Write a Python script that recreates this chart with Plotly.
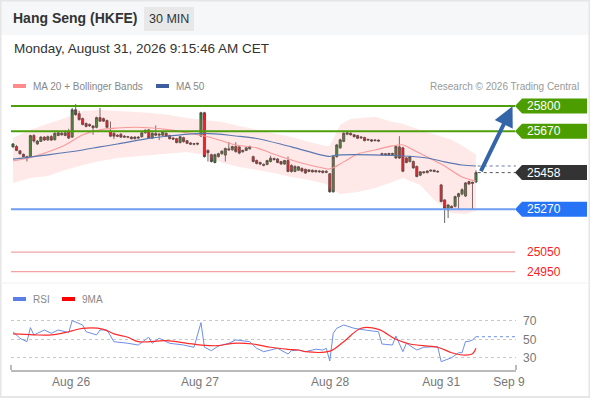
import plotly.graph_objects as go
from plotly.subplots import make_subplots

# 30 min candles, Hang Seng futures (x = bar index)
opens = [25590, 25592, 25570, 25552, 25540, 25540, 25648, 25605, 25618, 25640,
         25625, 25643, 25627, 25648, 25660, 25648, 25668, 25640, 25780, 25760,
         25735, 25710, 25705, 25697, 25690, 25740, 25735, 25725, 25668, 25660,
         25650, 25655, 25645, 25640, 25640, 25632, 25640, 25642, 25662, 25677,
         25635, 25658, 25650, 25650, 25660, 25648, 25635, 25632, 25612, 25637,
         25622, 25610, 25604, 25604, 25646, 25765, 25572, 25550, 25510, 25540,
         25555, 25548, 25580, 25575, 25592, 25590, 25565, 25572, 25580, 25540,
         25520, 25510, 25500, 25500, 25515, 25530, 25528, 25515, 25502, 25520,
         25495, 25464, 25470, 25480, 25475, 25464, 25470, 25462, 25462, 25466,
         25465, 25452, 25360, 25540, 25585, 25618, 25655, 25660, 25652, 25648,
         25636, 25638, 25625, 25626, 25622, 25625, 25556, 25550, 25550, 25556,
         25533, 25590, 25585, 25533, 25515, 25515, 25490, 25445, 25462, 25458,
         25466, 25470, 25464, 25395, 25318, 25267, 25285, 25285, 25335, 25348,
         25338, 25412, 25402, 25410]
highs = [25610, 25600, 25572, 25556, 25545, 25652, 25655, 25625, 25645, 25645,
         25648, 25650, 25665, 25668, 25668, 25675, 25683, 25790, 25810, 25775,
         25740, 25715, 25710, 25702, 25745, 25790, 25740, 25730, 25720, 25665,
         25655, 25660, 25650, 25646, 25645, 25645, 25645, 25666, 25680, 25682,
         25665, 25700, 25660, 25672, 25665, 25652, 25640, 25636, 25646, 25642,
         25626, 25614, 25610, 25612, 25770, 25770, 25578, 25555, 25555, 25560,
         25572, 25586, 25615, 25596, 25614, 25596, 25576, 25590, 25596, 25545,
         25525, 25514, 25505, 25524, 25545, 25535, 25532, 25518, 25524, 25540,
         25500, 25495, 25492, 25484, 25478, 25476, 25474, 25472, 25470, 25470,
         25470, 25456, 25545, 25605, 25632, 25665, 25668, 25664, 25656, 25652,
         25644, 25642, 25632, 25630, 25628, 25628, 25560, 25558, 25560, 25560,
         25598, 25645, 25590, 25538, 25545, 25520, 25494, 25466, 25466, 25470,
         25474, 25474, 25470, 25400, 25322, 25296, 25290, 25340, 25355, 25378,
         25410, 25416, 25412, 25470]
lows = [25585, 25568, 25550, 25535, 25515, 25535, 25612, 25600, 25615, 25620,
        25622, 25620, 25622, 25645, 25648, 25645, 25630, 25636, 25750, 25725,
        25700, 25690, 25692, 25652, 25685, 25718, 25718, 25685, 25640, 25630,
        25640, 25636, 25636, 25634, 25628, 25628, 25630, 25638, 25658, 25630,
        25630, 25645, 25625, 25645, 25640, 25628, 25625, 25608, 25608, 25612,
        25604, 25600, 25598, 25598, 25640, 25535, 25515, 25510, 25505, 25536,
        25550, 25515, 25570, 25570, 25560, 25552, 25560, 25568, 25576, 25510,
        25500, 25496, 25490, 25496, 25510, 25520, 25506, 25498, 25498, 25460,
        25458, 25460, 25466, 25460, 25452, 25460, 25458, 25458, 25456, 25454,
        25455, 25355, 25355, 25535, 25580, 25614, 25650, 25648, 25638, 25630,
        25630, 25618, 25620, 25615, 25618, 25617, 25545, 25545, 25546, 25548,
        25528, 25528, 25460, 25505, 25510, 25478, 25434, 25440, 25452, 25454,
        25462, 25460, 25458, 25305, 25200, 25225, 25270, 25280, 25270, 25342,
        25333, 25395, 25268, 25405]
closes = [25605, 25572, 25555, 25540, 25530, 25648, 25620, 25620, 25640, 25625,
          25642, 25625, 25660, 25662, 25652, 25662, 25635, 25780, 25755, 25730,
          25705, 25695, 25698, 25688, 25740, 25722, 25722, 25690, 25645, 25645,
          25645, 25640, 25640, 25642, 25632, 25640, 25636, 25662, 25675, 25635,
          25660, 25650, 25655, 25668, 25645, 25632, 25630, 25612, 25642, 25617,
          25608, 25604, 25606, 25608, 25765, 25540, 25560, 25515, 25550, 25555,
          25568, 25582, 25575, 25592, 25566, 25558, 25572, 25585, 25592, 25515,
          25505, 25502, 25496, 25520, 25532, 25525, 25510, 25502, 25520, 25464,
          25464, 25490, 25488, 25466, 25456, 25472, 25462, 25468, 25466, 25458,
          25460, 25360, 25540, 25600, 25626, 25660, 25662, 25652, 25642, 25634,
          25640, 25622, 25628, 25620, 25625, 25620, 25550, 25554, 25556, 25552,
          25592, 25533, 25465, 25510, 25540, 25482, 25438, 25462, 25458, 25466,
          25470, 25464, 25462, 25310, 25275, 25292, 25278, 25335, 25350, 25370,
          25405, 25400, 25408, 25458]

# moving averages / Bollinger bands (sampled at bar indices)
ma20_x = [0, 5, 10, 15, 20, 25, 30, 35, 40, 45, 50, 55, 60, 64, 70, 74, 80, 84,
          89, 91, 95, 99, 104, 109, 112, 115, 119, 124, 129, 133]
ma20_y = [25518, 25536, 25564, 25600, 25651, 25677, 25687, 25691, 25687, 25677,
          25662, 25646, 25621, 25600, 25585, 25559, 25523, 25502, 25482, 25477,
          25513, 25554, 25574, 25595, 25600, 25574, 25538, 25492, 25436, 25415]
ma50_x = [0, 10, 20, 25, 30, 40, 45, 55, 64, 70, 80, 91, 92, 109, 119, 124, 129, 133]
ma50_y = [25527, 25549, 25574, 25590, 25605, 25636, 25646, 25659, 25646, 25633,
          25590, 25541, 25546, 25546, 25533, 25513, 25497, 25492]
bb_up_x = [0, 5, 10, 15, 20, 25, 30, 40, 45, 50, 55, 60, 65, 70, 73, 80, 85, 90,
           91, 94, 97, 104, 109, 112, 117, 121, 126, 130, 133]
bb_up_y = [25636, 25677, 25708, 25738, 25774, 25779, 25774, 25764, 25754, 25738,
           25728, 25718, 25697, 25677, 25665, 25640, 25615, 25595, 25595, 25703,
           25733, 25745, 25718, 25708, 25677, 25656, 25626, 25585, 25549]
bb_lo_x = [0, 5, 10, 15, 20, 25, 30, 40, 50, 55, 60, 65, 70, 75, 80, 85, 90, 91,
           94, 99, 104, 109, 112, 117, 121, 126, 130, 133]
bb_lo_y = [25405, 25431, 25441, 25472, 25497, 25518, 25533, 25549, 25564, 25549,
           25508, 25487, 25472, 25456, 25436, 25420, 25400, 25379, 25349, 25359,
           25379, 25410, 25431, 25395, 25318, 25251, 25246, 25262]

# RSI panel
rsi_x = [0, 2, 4, 5, 6, 9, 11, 13, 16, 17, 20, 21, 24, 25, 27, 29, 33, 36, 39, 40,
         42, 45, 49, 52, 54, 55, 57, 59, 62, 64, 68, 70, 72, 76, 79, 80, 82, 84, 87,
         89, 90, 91, 92, 93, 95, 98, 101, 105, 106, 109, 110, 111, 112, 113, 116,
         118, 122, 123, 125, 126, 128, 129, 130, 131, 132, 133]
rsi_y = [58.4, 51.3, 47.6, 62.8, 54.9, 60.3, 56.7, 60.3, 57.4, 70.4, 65.7, 58.4,
         54.9, 60.3, 60.3, 47.6, 45.9, 44, 52.4, 45.9, 51.3, 45.9, 44, 41.6, 68.2,
         41.6, 37.9, 43, 45.9, 49.5, 47.6, 40.5, 36.8, 40.5, 34.3, 37.9, 38.6, 36.8,
         39.5, 38.6, 40.5, 26.8, 56.7, 62.1, 65.7, 62.1, 60.3, 58.4, 45.1, 44, 53.8,
         46, 36.8, 45.9, 38.6, 41.6, 42.3, 26, 28.6, 30.3, 35.7, 35.7, 47.8, 48,
         49.5, 53]
rsi_ma_x = [0, 6, 11, 16, 20, 26, 29, 33, 36, 44, 50, 54, 59, 63, 69, 74, 79, 82,
            84, 91, 95, 100, 105, 110, 114, 122, 126, 129, 132, 133]
rsi_ma_y = [56, 55, 55, 58.4, 62, 61, 56, 52.4, 47.6, 48.7, 45.9, 44, 43.3, 45.9,
            45.1, 41.6, 39.4, 38.6, 36.8, 37.4, 47.6, 62.1, 61, 50.2, 45.1, 41.6,
            35.7, 33.2, 34.5, 40.5]

tick_pos = [16.7, 53.7, 91.1, 123, 142.5]
tick_text = ['Aug 26', 'Aug 27', 'Aug 28', 'Aug 31', 'Sep 9']

resistances = [25800, 25670]
supports = [25270]
lower_levels = [25050, 24950]
last_price = 25458

FONT = 'Arial, Liberation Sans, sans-serif'
X_RANGE = [-0.575, 144.5]
Y_RANGE = [24892, 25856]
UNITS_PER_PX = (Y_RANGE[1] - Y_RANGE[0]) / 188


def px(x):
    # pixel -> paper x
    return (x - 11) / 505


def py(y):
    # pixel -> paper y
    return (370 - y) / 275


fig = make_subplots(rows=2, cols=1, shared_xaxes=True)

# Bollinger band as one closed area
fig.add_trace(go.Scatter(
    x=bb_up_x + bb_lo_x[::-1], y=bb_up_y + bb_lo_y[::-1],
    fill='toself', fillcolor='rgba(255,110,110,0.16)', line=dict(width=0),
    mode='lines', hoverinfo='skip'), row=1, col=1)
fig.add_trace(go.Scatter(x=ma20_x, y=ma20_y, mode='lines',
                         line=dict(color='#f79a9a', width=1.1, shape='spline')), row=1, col=1)
fig.add_trace(go.Scatter(x=ma50_x, y=ma50_y, mode='lines',
                         line=dict(color='#5a78b0', width=1.1, shape='spline')), row=1, col=1)

fig.add_trace(go.Candlestick(
    x=list(range(len(closes))), open=opens, high=highs, low=lows, close=closes,
    increasing=dict(fillcolor='#2e8b2e', line=dict(color='#404040', width=0.8)),
    decreasing=dict(fillcolor='#e8141c', line=dict(color='#404040', width=0.8)),
    whiskerwidth=0), row=1, col=1)

fig.add_trace(go.Scatter(x=rsi_x, y=rsi_y, mode='lines',
                         line=dict(color='#6d8fe8', width=1)), row=2, col=1)
fig.add_trace(go.Scatter(x=rsi_ma_x, y=rsi_ma_y, mode='lines',
                         line=dict(color='#ff2a2a', width=1.2, shape='spline')), row=2, col=1)

shapes = []
annotations = []

# frame + header band
shapes.append(dict(type='rect', xref='paper', yref='paper', x0=px(0), x1=px(590),
                   y0=py(0), y1=py(35), fillcolor='#f6f7f8', line=dict(width=0), layer='below'))
shapes.append(dict(type='rect', xref='paper', yref='paper', x0=px(0.5), x1=px(589.5),
                   y0=py(397), y1=py(0.5), line=dict(color='#e6e6e6', width=2), layer='below'))
shapes.append(dict(type='line', xref='paper', yref='paper', x0=px(0), x1=px(590),
                   y0=py(283), y1=py(283), line=dict(color='#f0f0f0', width=1), layer='below'))
shapes.append(dict(type='rect', xref='paper', yref='paper', x0=px(144), x1=px(194),
                   y0=py(31), y1=py(7), fillcolor='#e8e8e8', line=dict(width=0)))
annotations.append(dict(text='<b>Hang Seng (HKFE)</b>', x=px(11), y=py(18), xref='paper', yref='paper',
                        xanchor='left', yanchor='middle', showarrow=False,
                        font=dict(size=14, color='#333', family=FONT)))
annotations.append(dict(text='30 MIN', x=px(169), y=py(19), xref='paper', yref='paper',
                        xanchor='center', yanchor='middle', showarrow=False,
                        font=dict(size=12.5, color='#333', family=FONT)))
annotations.append(dict(text='Monday, August 31, 2026 9:15:46 AM CET', x=px(12), y=py(48),
                        xref='paper', yref='paper', xanchor='left', yanchor='middle', showarrow=False,
                        font=dict(size=13.5, color='#333', family=FONT)))

# legends
legend_items = [(13, '#ff8a8a', 'MA 20 + Bollinger Bands', 86), (156, '#3d5e9e', 'MA 50', 86),
                (13, '#5b7fe6', 'RSI', 299), (62, '#ff0000', '9MA', 299)]
for lx, col, txt, ly in legend_items:
    shapes.append(dict(type='rect', xref='paper', yref='paper', x0=px(lx), x1=px(lx + 13),
                       y0=py(ly + 2), y1=py(ly - 2), fillcolor=col, line=dict(width=0)))
    annotations.append(dict(text=txt, x=px(lx + 18), y=py(ly), xref='paper', yref='paper',
                            xanchor='left', yanchor='middle', showarrow=False,
                            font=dict(size=10, color='#888', family=FONT)))
annotations.append(dict(text='Research © 2026 Trading Central', x=px(581), y=py(86),
                        xref='paper', yref='paper', xanchor='right', yanchor='middle', showarrow=False,
                        font=dict(size=10, color='#999', family=FONT)))

# price levels with tag boxes
h = 7.5 * UNITS_PER_PX


def tag(level, color):
    shapes.append(dict(type='path', xref='paper', yref='y',
                       path=f'M {px(515)},{level} L {px(522)},{level + h} L {px(587)},{level + h} '
                            f'L {px(587)},{level - h} L {px(522)},{level - h} Z',
                       fillcolor=color, line=dict(width=0)))
    annotations.append(dict(text=str(level), x=px(525), y=level, xref='paper', yref='y',
                            xanchor='left', yanchor='middle', showarrow=False,
                            font=dict(size=12, color='white', family=FONT)))


for lv in resistances:
    shapes.append(dict(type='line', xref='paper', yref='y', x0=0, x1=px(515), y0=lv, y1=lv,
                       line=dict(color='#4f9e0c', width=2)))
    tag(lv, '#4c9e00')
for lv in supports:
    shapes.append(dict(type='line', xref='paper', yref='y', x0=0, x1=px(515), y0=lv, y1=lv,
                       line=dict(color='#6e9ef2', width=2)))
    tag(lv, '#2673f5')
for lv in lower_levels:
    shapes.append(dict(type='line', xref='paper', yref='y', x0=0, x1=px(515), y0=lv, y1=lv,
                       line=dict(color='#f4a3a3', width=1.3)))
    annotations.append(dict(text=str(lv), x=px(525), y=lv, xref='paper', yref='y',
                            xanchor='left', yanchor='middle', showarrow=False,
                            font=dict(size=12, color='#ff2020', family=FONT)))

# last price + MA50 dotted extensions
last_i = len(closes) - 1
shapes.append(dict(type='line', xref='x', yref='y', x0=last_i + 0.5, x1=X_RANGE[1], y0=last_price,
                   y1=last_price, line=dict(color='#555', width=1, dash='dot')))
shapes.append(dict(type='line', xref='x', yref='y', x0=ma50_x[-1] + 0.5, x1=X_RANGE[1], y0=ma50_y[-1],
                   y1=ma50_y[-1], line=dict(color='#6a7aa0', width=1, dash='dot')))
tag(last_price, '#333333')
shapes.append(dict(type='line', xref='x2', yref='y2', x0=rsi_x[-1], x1=X_RANGE[1], y0=rsi_y[-1],
                   y1=rsi_y[-1], line=dict(color='#6d8fe8', width=1, dash='dot')))

# forecast arrow
annotations.append(dict(x=143.5, y=resistances[0] - 2, xref='x', yref='y', ax=last_i + 1.2, ay=last_price,
                        axref='x', ayref='y', text='', showarrow=True, arrowhead=2, arrowsize=1,
                        arrowwidth=4, arrowcolor='#3465a8'))

# small axis end ticks
for ex in [11, 516]:
    shapes.append(dict(type='line', xref='paper', yref='paper', x0=px(ex), x1=px(ex),
                       y0=py(370), y1=py(365), line=dict(color='#bbb', width=2)))

fig.update_layout(
    width=590, height=400,
    margin=dict(l=11, r=74, t=95, b=30),
    paper_bgcolor='white', plot_bgcolor='white',
    showlegend=False, boxgap=0.12,
    shapes=shapes, annotations=annotations,
    font=dict(family=FONT),
)
fig.update_xaxes(range=X_RANGE, rangeslider_visible=False, showgrid=False, zeroline=False)
fig.update_xaxes(showticklabels=False, showline=False, row=1, col=1)
fig.update_xaxes(showline=True, linecolor='#bbb', linewidth=2, tickvals=tick_pos, ticktext=tick_text,
                 tickfont=dict(size=12, color='#777'), ticks='', row=2, col=1)
fig.update_layout(
    yaxis=dict(domain=[py(283), 1], range=Y_RANGE, visible=False),
    yaxis2=dict(domain=[0, py(300)], range=[17, 92.7], side='right', tickvals=[30, 50, 70],
                showgrid=True, gridcolor='#c8c8c8', griddash='dot', zeroline=False,
                tickfont=dict(size=12, color='#777'), ticklabelstandoff=6),
)

# page body has a default margin; remove it so the figure sits at the window origin
fig.write_html("out.html", config={'displayModeBar': False},
               post_script="document.body.style.margin='0';")
